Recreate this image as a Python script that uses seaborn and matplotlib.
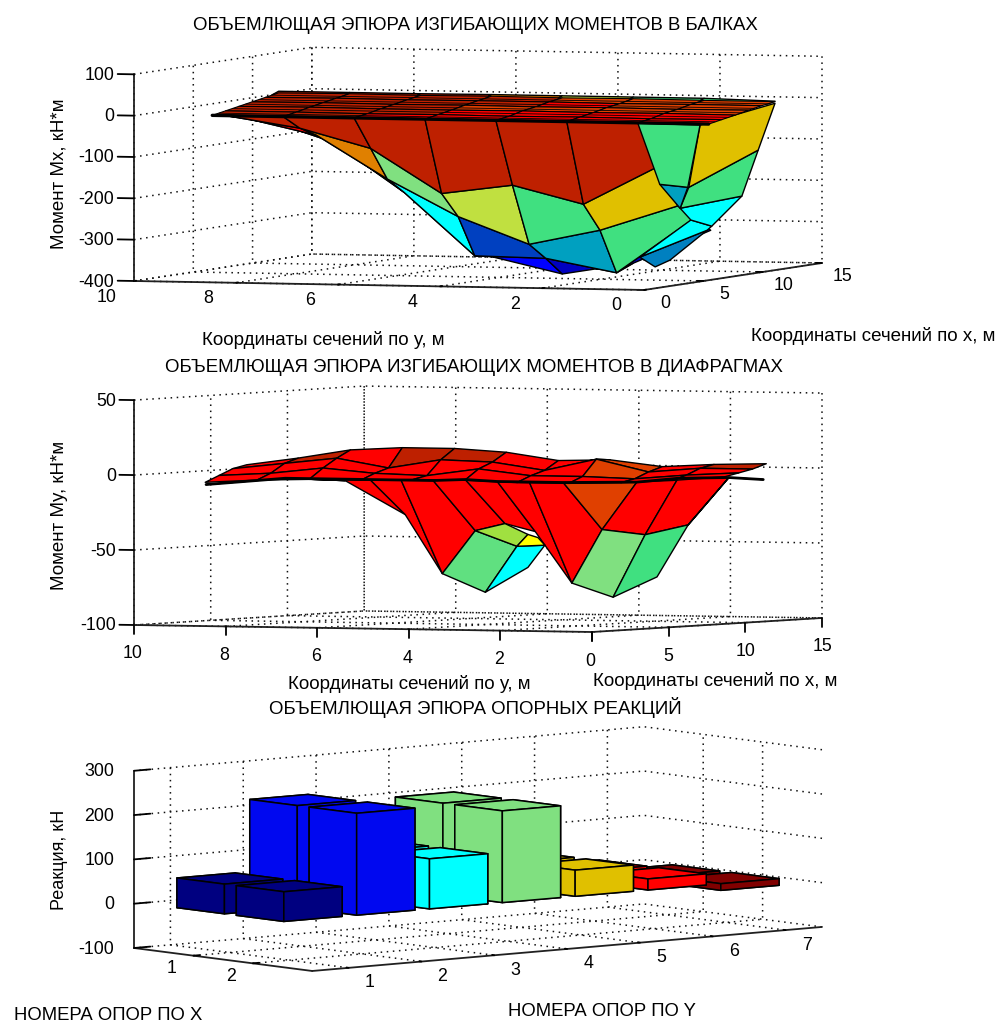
import numpy as np
import matplotlib
matplotlib.use('Agg')
import matplotlib.pyplot as plt
import seaborn as sns
from mpl_toolkits.mplot3d import proj3d

W, H = 997, 1025

# --- beams: bending moment envelope ---
beam_top_x = [6.6, 7.72, 8.84, 9.96, 11.08, 12.2]
beam_top_y = [10, 8.61, 7.22, 5.83, 4.44, 3.05, 1.66, 0.27]
beam_top_z = [[-28, -28, -28, -28, -28, -28, -28, -28],
              [-22, -22, -23, -22, -23, -22, -23, -22],
              [-16, -15, -16, -16, -15, -16, -15, -16],
              [-10, -9, -10, -9, -10, -9, -10, -9],
              [-4, -3, -4, -3, -3, -4, -3, -3],
              [2, 3, 2, 3, 2, 3, 2, 2]]
beam_top_codes = ['BBRRRRR', 'BBBRRRR', 'BBBoooo', 'BBBBRoo', 'BBBBooo']
beam_mid_x = [7.16, 8.28, 9.4, 10.52, 11.64]
beam_mid_z = [[-25] * 8, [-19] * 8, [-13] * 8, [-7] * 8, [-1] * 8]

beam_rear_x = [11.6, 12.2]
beam_rear_z = [[-1] * 8, [6, 6, 6, 7, 7, 7, 7, 3]]
beam_rear_codes = ['BBBOLGG']

beam_low_x = [6.6, 8.0, 9.4, 10.8, 12.2]
beam_low_y = [10, 8.61, 7.22, 5.83, 4.44, 3.05, 1.53]
beam_low_z = [[-28, -28, -28, -28, -28, -28, -28],
              [-36, -62, -108, -214, -191, -234, -136],
              [-47, -85, -188, -276, -340, -303, -241],
              [-53, -108, -226, -377, -380, -412, -277],
              [-52, -134, -251, -385, -424, -395, -312]]
beam_low_codes = ['BBBBBB', 'ROgLGY', 'RCCbTG', 'bbbUDD']

beam_wing_x = 12.2
beam_wing_y = [[1.74, 0.27], [1.96, 0.60], [2.13, 0.92], [1.92, 1.51], [2.92, 1.60], [2.62, 2.33]]
beam_wing_z = [[-58, -2], [-209, -116], [-260, -228], [-288, -302], [-380, -312], [-403, -386]]
beam_wing_codes = ['Y', 'G', 'C', 'C', 'M']

beam_side_y = [[2.96, 1.74], [2.53, 1.98], [2.13, 2.13]]
beam_side_z = [[-56, -58], [-203, -209], [-260, -260]]
beam_side_codes = ['G', 'T']

# --- diaphragms: bending moment envelope ---
diaph_top_x = [5.0, 5.9, 6.8, 7.7]
diaph_top_y = [10.12, 8.99, 7.85, 6.72, 5.58, 4.45, 3.31, 2.18, 1.04, -0.09, -1.23]
diaph_top_z = [[-8, -6, -5, -5, -4, -4, -5, -5, -4, -2, 1],
               [-4, -2, 2, -1, -2, 3, -1, -1, -2, 1, 3],
               [-0, 4, 8, 2, 8, 7, 2, 10, 2, 5, 5],
               [2, 7, 13, 15, 15, 13, 8, 9, 5, 7, 8]]
diaph_top_codes = ['RRRRRRRRRR', 'RRRRRRRoRR', 'RBRBBRRoRB', 'RRBRBBRRBB']

diaph_low_x = 9.5
diaph_low_y = [[11.61, 9.88, 8.03, 7.35, 6.65, 5.95, 5.25, 4.55, 3.81, 2.20, 1.30, 0.19, -0.56],
               [9.88, 8.57, 7.26, 6.45, 5.73, 5.08, 4.42, 3.62, 2.96, 2.96, 2.02, 1.08, 0.19]]
diaph_low_z = [[-13, -8, -8, -8, -8, -7, -8, -8, -8, -7, -4, -3, -4],
               [-8, -9, -31, -70, -41, -36, -41, -75, -39, -39, -42, -35, -3]]
diaph_low_codes = ['RRRRRRRRoRRR']

diaph_left_y = [[5.08, 4.58, 4.36], [5.73, 4.82, 4.21], [6.45, 5.51, 4.58]]
diaph_left_z = [[-36, -43, -45], [-41, -51, -50], [-70, -82, -65]]
diaph_left_codes = ['ly', 'HC']

diaph_right_y = [[2.96, 2.02, 1.08], [3.62, 2.72, 1.76]]
diaph_right_z = [[-39, -42, -35], [-75, -84, -70]]
diaph_right_codes = ['gG']

# --- support reactions ---
support_x = [1, 2]
support_y = [1, 2, 3, 4, 5, 6, 7]
support_z = [67, 230, 113, 207, 59, 25, -15]
support_colors = ['#000080', '#0008F0', '#00FFFF', '#80E080', '#E0C000', '#FF0000', '#800000']

face_colors = {'B': '#BE2000', 'R': '#FF0000', 'o': '#E04000', 'O': '#E08000', 'Y': '#E0C000',
               'L': '#C0E040', 'l': '#A0E040', 'G': '#40E080', 'g': '#80E080', 'H': '#60E080',
               'T': '#00A0C0', 'C': '#00FFFF', 'b': '#0040C0', 'U': '#0000FF', 'D': '#0000C0',
               'M': '#0080C0', 'y': '#FFFF00'}


def code_colors(codes):
    table = [sns.color_palette([face_colors[c] for c in row]) for row in codes]
    return np.array([[(*c, 1.0) for c in row] for row in table])


def draw_surface(ax, xs, ys, zs, codes, lw=1.0):
    surf = ax.plot_surface(np.array(xs, dtype=float), np.array(ys, dtype=float), np.array(zs, dtype=float),
                           facecolors=code_colors(codes), rstride=1, cstride=1, shade=False)
    surf.set_edgecolor('black')
    surf.set_linewidth(lw)
    return surf


def grid_surface(ax, x, y, z, codes, lw=1.0):
    xx, yy = np.meshgrid(x, y, indexing='ij')
    return draw_surface(ax, xx, yy, z, codes, lw)


def free_surface(ax, x, y, z, codes, lw=1.0):
    y = np.array(y, dtype=float)
    return draw_surface(ax, np.full(y.shape, x), y, z, codes, lw)


def setup_axes(fig, azim, elev, aspect, floor_ticks=0.15):
    ax = fig.add_axes([0.1, 0.1, 0.6, 0.6], projection='3d', proj_type='ortho', computed_zorder=False)
    ax.view_init(elev=elev, azim=azim)
    ax.set_box_aspect(aspect, zoom=0.8)
    ax.patch.set_visible(False)
    for axis in (ax.xaxis, ax.yaxis, ax.zaxis):
        axis.set_pane_color((1, 1, 1, 0))
        axis.pane.set_edgecolor((1, 1, 1, 0))
        axis.line.set_color('#202020')
        axis.line.set_linewidth(1.3)
        axis._axinfo['tick']['inward_factor'] = 0.0
        axis._axinfo['tick']['outward_factor'] = floor_ticks
        axis._axinfo['tick']['linewidth'] = {True: 1.3, False: 0.5}
    ax.zaxis._axinfo['tick']['outward_factor'] = 0.4
    ax.zaxis._get_tickdir = lambda position: 1
    return ax


def set_limits(ax, xlim, ylim, zlim, xt, yt, zt):
    ax.set_xlim(*xlim, view_margin=0)
    ax.set_ylim(*ylim, view_margin=0)
    ax.set_zlim(*zlim, view_margin=0)
    ax.set_xticks(xt)
    ax.set_yticks(yt)
    ax.set_zticks(zt)
    ax.xaxis.set_ticklabels([])
    ax.yaxis.set_ticklabels([])
    ax.zaxis.set_ticklabels([])


def fit_axes(ax, p1, p2, px1, px2):
    # move and scale the square axes until two box corners land on the wanted pixels
    for _ in range(3):
        ax.apply_aspect()
        a, b = to_pixels(ax, p1), to_pixels(ax, p2)
        a = (a[0], H - a[1])
        b = (b[0], H - b[1])
        scale = (px2[0] - px1[0]) / (b[0] - a[0])
        pos = ax.get_position()
        left, bottom = pos.x0 * W, pos.y0 * H
        side = pos.width * W * scale
        new_left = px1[0] - (a[0] - left) * scale
        new_bottom = (H - px1[1]) - (a[1] - bottom) * scale
        ax.set_position([new_left / W, new_bottom / H, side / W, side / H])
    ax.apply_aspect()


def to_pixels(ax, p):
    sx, sy, _z = proj3d.proj_transform(*p, ax.get_proj())
    px, py = ax.transData.transform((sx, sy))
    return px, H - py


def put_text(fig, x, y, s, rotation=0, size=13.4, ha='center'):
    fig.text(x / W, 1 - y / H, s, ha=ha, va='center', rotation=rotation, fontsize=size)


def tick_texts(fig, ax, points, labels, dx, dy, size=12.8):
    # tick labels follow the projected tick position
    for p, s in zip(points, labels):
        u, v = to_pixels(ax, p)
        put_text(fig, u + dx, v + dy, s, size=size)


def z_texts(fig, ax, corner, zvals, right=114, size=12.8):
    for z in zvals:
        u, v = to_pixels(ax, (corner[0], corner[1], z))
        put_text(fig, right, v + 1, str(z), size=size, ha='right')


def main():
    sns.set_theme(style='white', rc={'grid.color': '#101010', 'grid.linestyle': (0, (1, 3)), 'grid.linewidth': 1.1,
                                     'axes.unicode_minus': False, 'xtick.color': 'black', 'ytick.color': 'black',
                                     'text.color': 'black', 'axes.labelcolor': 'black'})
    plt.rcParams['font.family'] = ['Liberation Sans', 'DejaVu Sans']
    fig = plt.figure(figsize=(W / 100, H / 100), dpi=100, facecolor='white')

    # beams
    beam_x = [0, 5, 10, 15]
    beam_ty = [0, 2, 4, 6, 8, 10]
    beam_tz = [-400, -300, -200, -100, 0, 100]
    ax1 = setup_axes(fig, 198.8, 2.96, (552, 539, 207))
    grid_surface(ax1, beam_low_x, beam_low_y, beam_low_z, beam_low_codes)
    free_surface(ax1, beam_wing_x, beam_wing_y, beam_wing_z, beam_wing_codes)
    free_surface(ax1, beam_wing_x, beam_side_y, beam_side_z, beam_side_codes)
    grid_surface(ax1, beam_rear_x, beam_top_y, beam_rear_z, beam_rear_codes)
    grid_surface(ax1, beam_top_x, beam_top_y, beam_top_z, beam_top_codes, lw=0.8)
    mx, my = np.meshgrid(beam_mid_x, beam_top_y, indexing='ij')
    ax1.plot_wireframe(mx, my, np.array(beam_mid_z, dtype=float), rstride=1, cstride=0, color='black', linewidth=0.6)
    ax1.plot([beam_top_x[0]] * len(beam_top_y), beam_top_y, beam_top_z[0], color='black', linewidth=2.4)
    set_limits(ax1, (0, 15), (0, 10), (-400, 100), beam_x, beam_ty, beam_tz)
    fit_axes(ax1, (0, 10, -400), (15, 0, -400), (134, 281), (822, 263))
    tick_texts(fig, ax1, [(0, y, -400) for y in beam_ty], beam_ty, -27.5, 16)
    tick_texts(fig, ax1, [(x, 0, -400) for x in beam_x], beam_x, 21, 14)
    z_texts(fig, ax1, (0, 10), beam_tz)

    # diaphragms
    diaph_tz = [-100, -50, 0, 50]
    ax2 = setup_axes(fig, 206.6, 1.75, (514, 512, 225), floor_ticks=0.5)
    ax2.xaxis._get_tickdir = lambda position: 2
    ax2.yaxis._get_tickdir = lambda position: 2
    free_surface(ax2, diaph_low_x, diaph_low_y, diaph_low_z, diaph_low_codes)
    free_surface(ax2, diaph_low_x, diaph_left_y, diaph_left_z, diaph_left_codes)
    free_surface(ax2, diaph_low_x, diaph_right_y, diaph_right_z, diaph_right_codes)
    grid_surface(ax2, diaph_top_x, diaph_top_y, diaph_top_z, diaph_top_codes)
    ax2.plot([diaph_low_x] * 13, diaph_low_y[0], diaph_low_z[0], color='black', linewidth=2.0)
    set_limits(ax2, (0, 15), (0, 10), (-100, 50), beam_x, beam_ty, diaph_tz)
    fit_axes(ax2, (0, 10, -100), (15, 0, -100), (134, 625), (822, 618))
    tick_texts(fig, ax2, [(0, y, -100) for y in beam_ty], beam_ty, -1.5, 29)
    tick_texts(fig, ax2, [(x, 0, -100) for x in beam_x[1:]], beam_x[1:], 0, 29)
    z_texts(fig, ax2, (0, 10), diaph_tz, right=116)

    # supports, painted from the far corner to the near one
    support_tz = [-100, 0, 100, 200, 300]
    ax3 = setup_axes(fig, -39.3, 6.06, (281, 658, 178))
    for j in reversed(range(len(support_y))):
        for xv in support_x:
            ax3.bar3d(xv - 0.4, support_y[j] - 0.4, 0, 0.8, 0.8, support_z[j], color=support_colors[j],
                      edgecolor='black', linewidth=1.1, shade=False)
    set_limits(ax3, (0, 3), (0.5, 7.5), (-100, 300), support_x, support_y, support_tz)
    ax3.zaxis.set_ticks_position('lower')
    fit_axes(ax3, (0, 0.5, -100), (3, 7.5, -100), (134, 948), (822, 927))
    tick_texts(fig, ax3, [(x, 0.5, -100) for x in support_x], support_x, -22, 13)
    tick_texts(fig, ax3, [(3, y, -100) for y in support_y], support_y, 21, 15)
    z_texts(fig, ax3, (0, 0.5), support_tz)

    put_text(fig, 475, 25, 'ОБЪЕМЛЮЩАЯ ЭПЮРА ИЗГИБАЮЩИХ МОМЕНТОВ В БАЛКАХ')
    put_text(fig, 474, 367, 'ОБЪЕМЛЮЩАЯ ЭПЮРА ИЗГИБАЮЩИХ МОМЕНТОВ В ДИАФРАГМАХ')
    put_text(fig, 475, 707, 'ОБЪЕМЛЮЩАЯ ЭПЮРА ОПОРНЫХ РЕАКЦИЙ')
    put_text(fig, 323, 340, 'Координаты сечений по у, м', size=13.5)
    put_text(fig, 873, 336, 'Координаты сечений по х, м', size=13.5)
    put_text(fig, 409, 684, 'Координаты сечений по у, м', size=13.5)
    put_text(fig, 715, 681, 'Координаты сечений по х, м', size=13.5)
    put_text(fig, 108, 1016, 'НОМЕРА ОПОР ПО Х', size=13.3)
    put_text(fig, 602, 1012, 'НОМЕРА ОПОР ПО Y', size=13.3)
    put_text(fig, 59, 174, 'Момент Mx, кН*м', rotation=90, size=13.5)
    put_text(fig, 59, 515, 'Момент My, кН*м', rotation=90, size=13.5)
    put_text(fig, 59, 860, 'Реакция, кН', rotation=90, size=13)

    fig.savefig('out.png', dpi=100)


if __name__ == '__main__':
    main()
